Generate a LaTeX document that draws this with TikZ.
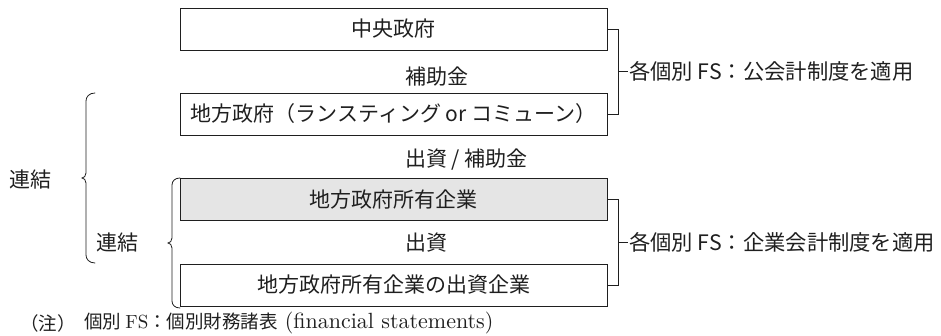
\documentclass[tikz,border=0pt]{standalone}
\usepackage{fontspec}
\newfontfamily\jp{Noto Sans CJK JP}
\newfontfamily\lmten{lmroman10-regular}[Extension=.otf]
\definecolor{ink}{gray}{0.12}
\definecolor{boxgray}{gray}{0.90}
\begin{document}
\begin{tikzpicture}[x=1pt,y=1pt,
  every node/.style={text=ink},
  box/.style={draw=ink, line width=0.8pt, minimum width=427pt, minimum height=42pt,
    inner sep=0pt, font=\jp\fontsize{21}{25}\selectfont},
  lbl/.style={anchor=west, inner sep=0pt, font=\jp\fontsize{21}{25}\selectfont},
  fs/.style={anchor=west, inner sep=1pt, font=\jp\fontsize{21.3}{25}\selectfont},
  conn/.style={draw=ink, line width=0.8pt},
  brc/.style={draw=ink, line width=0.8pt, line cap=round},
  note/.style={anchor=west, inner sep=0pt, font=\jp\fontsize{18.5}{22}\selectfont}]
\useasboundingbox (0,0) rectangle (941,336);

% boxes
\node[box] (b1) at (393.5,307) {中央政府};
\node[box] (b2) at (393.5,222) {地方政府（ランスティング or コミューン）};
\node[box, fill=boxgray] (b3) at (393.5,136.5) {地方政府所有企業};
\node[box] (b4) at (393.5,51) {地方政府所有企業の出資企業};

% flow labels
\node[lbl] (l1) at (405,259) {補助金};
\node[lbl] (l2) at (405,176) {出資 / 補助金};
\node[lbl] (l3) at (405,93) {出資};

% right brackets
\coordinate (t1) at (618,264.5);
\coordinate (t2) at (618,93.75);
\node[fs] (fs1) at (628,264.5) {各個別 FS：公会計制度を適用};
\node[fs] (fs2) at (628,93.75) {各個別 FS：企業会計制度を適用};
\draw[conn] (b1.east) -- ++(11,0) |- (b2.east);
\draw[conn] (t1) -- (fs1.west);
\draw[conn] (b3.east) -- ++(11,0) |- (b4.east);
\draw[conn] (t2) -- (fs2.west);

% left braces
\draw[brc] (95,243) .. controls +(-6,0) and +(0,4) .. (86,235) -- (86,163)
  .. controls +(0,-3) and +(2,0) .. (82,158) .. controls +(2,0) and +(0,3) .. (86,153)
  -- (86,81) .. controls +(0,-4) and +(-6,0) .. (95,73);
\draw[brc] (180,158) .. controls +(-5,0) and +(0,4) .. (172,151) -- (172,98)
  .. controls +(0,-3) and +(2,0) .. (168,93) .. controls +(2,0) and +(0,3) .. (172,88)
  -- (172,35) .. controls +(0,-4) and +(-5,0) .. (180,28);
\node[lbl] (k1) at (9,156) {連結};
\node[lbl] (k2) at (96,93) {連結};

% footnote
\node[note] (n1) at (20,13) {（注）};
\node[note] (n2) at (84,13) {個別 {\lmten\fontsize{19}{22}\selectfont FS}：個別財務諸表\hspace{7pt}{\lmten\fontsize{22}{24}\selectfont (financial statements)}};
\end{tikzpicture}
\end{document}
